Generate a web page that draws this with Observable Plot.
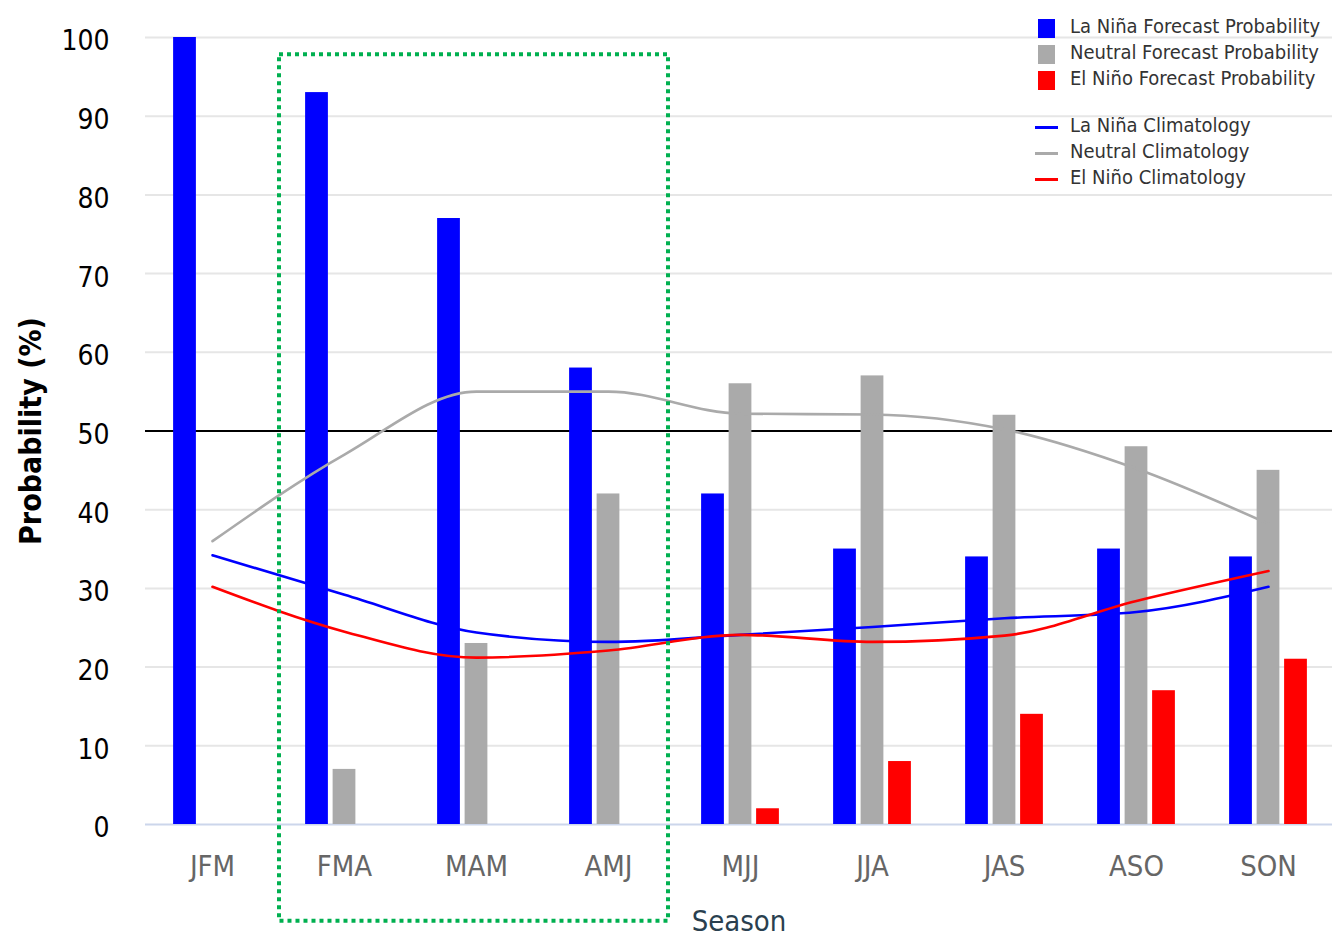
<!DOCTYPE html>
<html>
<head>
<meta charset="utf-8">
<script src="https://cdn.jsdelivr.net/npm/d3@7"></script>
<script src="https://cdn.jsdelivr.net/npm/@observablehq/plot@0.6"></script>
<style>
  html, body { margin: 0; padding: 0; background: #fff; }
  #wrap { position: relative; width: 1332px; height: 937px; overflow: hidden; }
  #legend { position: absolute; left: 0; top: 0; font-family: "DejaVu Sans Condensed", "DejaVu Sans", sans-serif; font-size: 20px; color: #333; }
  .lg { position: absolute; white-space: nowrap; line-height: 20px; }
  .sw { position: absolute; }
</style>
</head>
<body>
<div id="wrap"><div id="chart"></div><div id="legend"></div></div>
<script>
const seasons = ["JFM","FMA","MAM","AMJ","MJJ","JJA","JAS","ASO","SON"];
const laNinaProb  = [100, 93, 77, 58, 42, 35, 34, 35, 34];
const neutralProb = [0, 7, 23, 42, 56, 57, 52, 48, 45];
const elNinoProb  = [0, 0, 0, 0, 2, 8, 14, 17, 21];
const laNinaClim  = [34.2, 29.2, 24.4, 23.2, 24.1, 25.1, 26.2, 27.0, 30.2];
const neutralClim = [36.0, 47.0, 55.0, 55.0, 52.2, 52.1, 50.2, 45.2, 38.2];
const elNinoClim  = [30.2, 24.5, 21.2, 22.1, 24.1, 23.2, 24.0, 28.4, 32.2];
const yTicks = [0,10,20,30,40,50,60,70,80,90,100];
const threshold = [50];
const highlight = {from: "FMA", to: "AMJ", upper: 97.8, lower: -12.3};

const seriesNames = ["La Niña Forecast Probability","Neutral Forecast Probability","El Niño Forecast Probability"];
const climNames = ["La Niña Climatology","Neutral Climatology","El Niño Climatology"];
const colors = ["#0000ff","#aaaaaa","#ff0000"];

const bars = [laNinaProb, neutralProb, elNinoProb].map(vals => seasons.map((s,i) => ({season: s, value: vals[i]})));
const clims = [laNinaClim, neutralClim, elNinoClim].map(vals => seasons.map((s,i) => ({season: s, value: vals[i]})));

const W = 1332, H = 937;
const pL = 145, pR = 1335, pT = 37, pB = 824;
const band = (pR - pL) / seasons.length;
const barW = 23, step = 27.5;
const inset = (band - barW) / 2;
const offsets = [-step, 0, step];
const FONT = "DejaVu Sans Condensed, DejaVu Sans, sans-serif";

const chart = Plot.plot({
  width: W, height: H,
  marginLeft: pL, marginRight: 0, marginTop: pT, marginBottom: H - pB,
  style: {fontFamily: FONT, background: "#fff", overflow: "hidden"},
  x: {type: "band", domain: seasons, range: [pL, pR], padding: 0},
  y: {domain: [0, 100], range: [pB, pT]},
  marks: [
    Plot.gridY(yTicks.filter(d => d > 0), {stroke: "#e6e6e6", strokeOpacity: 1, strokeWidth: 2}),
    Plot.ruleY([0], {stroke: "#ccd6eb", strokeWidth: 2}),
    Plot.ruleY(threshold, {stroke: "#000", strokeWidth: 2.2}),
    ...bars.map((d, k) => Plot.barY(d, {x: "season", y: "value", fill: colors[k], dx: offsets[k], insetLeft: inset, insetRight: inset})),
    ...clims.map((d, k) => Plot.lineY(d, {x: "season", y: "value", stroke: colors[k], strokeWidth: 2.6, curve: "monotone-x"})),
    Plot.axisY(yTicks, {tickSize: 0, tickPadding: 36, fontSize: 28, fill: "#000", label: null, dy: 4}),
    Plot.axisX({tickSize: 0, tickPadding: 31, fontSize: 29, fill: "#666", label: null}),
    Plot.text(["Probability (%)"], {frameAnchor: "left", dx: -114, rotate: -90, fontSize: 30, fontWeight: "bold", fill: "#000", textAnchor: "middle", lineAnchor: "middle"}),
    Plot.text(["Season"], {frameAnchor: "bottom", dy: 97, fontSize: 29, fill: "#2a3f4f", textAnchor: "middle", lineAnchor: "middle"})
  ]
});
document.getElementById("chart").appendChild(chart);

// highlight box using the plot's scales
const xs = chart.scale("x"), ys = chart.scale("y");
const bx1 = xs.apply(highlight.from) + 1;
const bx2 = xs.apply(highlight.to) + xs.bandwidth - 6;
const by1 = ys.apply(highlight.upper), by2 = ys.apply(highlight.lower);
d3.select(chart).append("rect")
  .attr("x", bx1).attr("y", by1).attr("width", bx2 - bx1).attr("height", by2 - by1)
  .attr("fill", "none").attr("stroke", "#00b050").attr("stroke-width", 4)
  .attr("stroke-dasharray", "4,4");

// legend
const lg = document.getElementById("legend");
seriesNames.forEach((n, k) => {
  const sw = document.createElement("div");
  sw.className = "sw";
  Object.assign(sw.style, {left: "1038px", top: (19 + 26*k) + "px", width: "17px", height: "19px", background: colors[k]});
  lg.appendChild(sw);
  const t = document.createElement("div");
  t.className = "lg"; t.textContent = n;
  Object.assign(t.style, {left: "1070px", top: (16 + 26*k) + "px"});
  lg.appendChild(t);
});
climNames.forEach((n, k) => {
  const sw = document.createElement("div");
  sw.className = "sw";
  Object.assign(sw.style, {left: "1035px", top: (126 + 26*k) + "px", width: "23px", height: "2.5px", background: colors[k]});
  lg.appendChild(sw);
  const t = document.createElement("div");
  t.className = "lg"; t.textContent = n;
  Object.assign(t.style, {left: "1070px", top: (115 + 26*k) + "px"});
  lg.appendChild(t);
});
</script>
</body>
</html>
